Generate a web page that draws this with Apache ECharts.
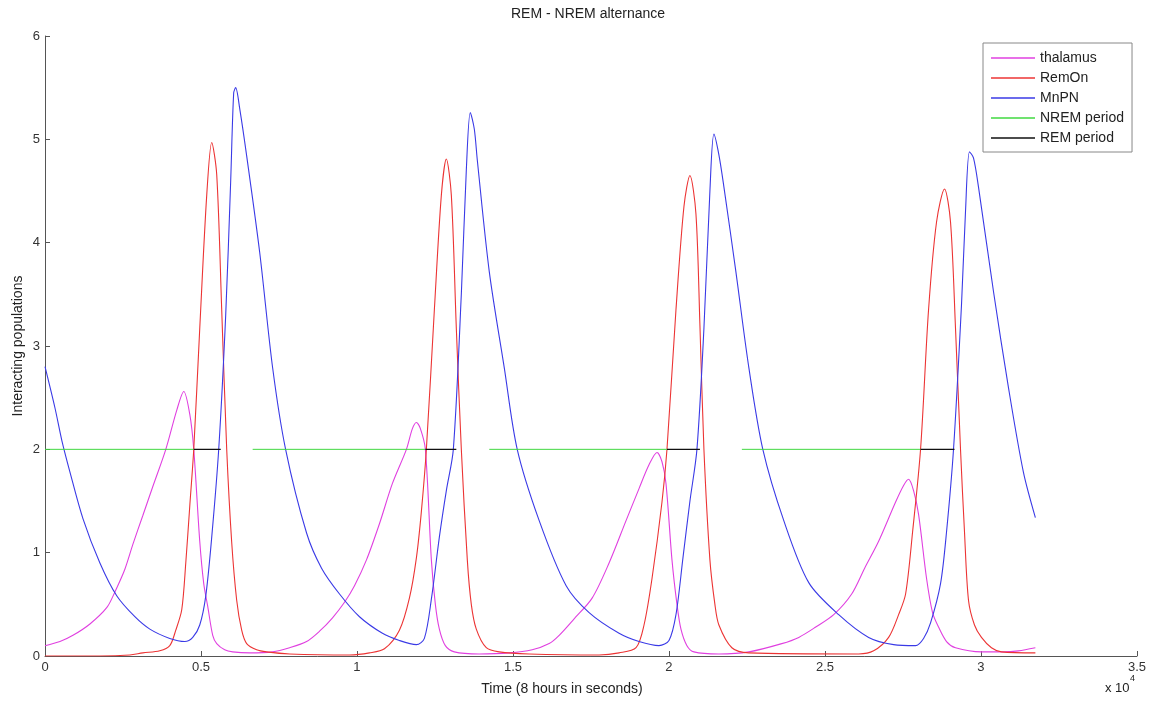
<!DOCTYPE html>
<html>
<head>
<meta charset="utf-8">
<title>REM - NREM alternance</title>
<script src="https://cdn.jsdelivr.net/npm/echarts@6/dist/echarts.min.js"></script>
<style>
  html, body { margin: 0; padding: 0; background: #fff; }
  #chart { width: 1149px; height: 702px; }
</style>
</head>
<body>
<div id="chart"></div>
<script>
// time in seconds
const thalamusT = [0, 480, 896, 1440, 1984, 2240, 2560, 2816, 3136, 3456, 3872, 4224, 4448, 4640, 4768, 4960, 5088, 5216, 5376, 5504, 5760, 6016, 6560, 7296, 7840, 8384, 8800, 9216, 9600, 9920, 10304, 10720, 11136, 11584, 11776, 11904, 12032, 12192, 12384, 12512, 12640, 12832, 13120, 13920, 14880, 15616, 16160, 16480, 16960, 17536, 18080, 18624, 19040, 19360, 19616, 19776, 19904, 20096, 20256, 20384, 20576, 20800, 21600, 22560, 23616, 24160, 24704, 25280, 25856, 26272, 26720, 27264, 27520, 27680, 27840, 28000, 28256, 28448, 28640, 28896, 29184, 30016, 30720, 31200, 31744];
const thalamusV = [0.10, 0.14, 0.20, 0.31, 0.47, 0.62, 0.84, 1.08, 1.36, 1.64, 2.0, 2.38, 2.56, 2.34, 2.0, 1.11, 0.70, 0.48, 0.20, 0.12, 0.06, 0.04, 0.03, 0.04, 0.08, 0.14, 0.24, 0.37, 0.52, 0.68, 0.93, 1.28, 1.67, 2.0, 2.2, 2.26, 2.2, 2.0, 0.93, 0.50, 0.26, 0.10, 0.04, 0.02, 0.03, 0.06, 0.12, 0.20, 0.36, 0.56, 0.90, 1.31, 1.62, 1.85, 1.97, 1.88, 1.67, 0.93, 0.50, 0.26, 0.10, 0.04, 0.02, 0.04, 0.12, 0.18, 0.28, 0.40, 0.60, 0.85, 1.11, 1.49, 1.65, 1.71, 1.6, 1.37, 0.75, 0.42, 0.28, 0.14, 0.08, 0.04, 0.04, 0.05, 0.08];

const remOnT = [0, 1760, 2720, 3136, 3680, 4000, 4192, 4384, 4512, 4640, 4768, 4960, 5184, 5344, 5504, 5664, 5824, 5984, 6144, 6304, 6464, 6784, 7104, 7840, 9760, 10400, 10880, 11360, 11680, 11904, 12064, 12224, 12480, 12704, 12864, 13024, 13184, 13344, 13536, 13664, 13824, 14144, 14560, 15520, 17760, 18400, 18944, 19200, 19456, 19776, 19936, 20224, 20480, 20672, 20864, 20992, 21120, 21312, 21472, 21600, 22016, 22560, 26080, 26560, 27040, 27360, 27584, 27808, 28064, 28320, 28576, 28832, 29024, 29184, 29344, 29472, 29600, 29792, 30016, 30336, 30656, 31744];
const remOnV = [0.0, 0.0, 0.01, 0.03, 0.05, 0.10, 0.25, 0.45, 0.90, 1.45, 2.0, 3.17, 4.46, 4.97, 4.66, 3.35, 2.0, 1.1, 0.54, 0.25, 0.12, 0.06, 0.04, 0.02, 0.01, 0.03, 0.07, 0.25, 0.56, 0.95, 1.4, 2.0, 3.35, 4.46, 4.81, 4.46, 3.17, 2.0, 0.93, 0.50, 0.26, 0.08, 0.04, 0.02, 0.01, 0.03, 0.08, 0.30, 0.75, 1.49, 2.0, 3.35, 4.35, 4.65, 4.28, 3.2, 2.0, 0.93, 0.50, 0.30, 0.08, 0.03, 0.02, 0.05, 0.18, 0.40, 0.60, 1.2, 2.0, 3.35, 4.2, 4.52, 4.2, 3.17, 2.0, 1.2, 0.54, 0.30, 0.18, 0.08, 0.04, 0.03];

const mnpnT = [0, 320, 544, 800, 1216, 1760, 2304, 2880, 3360, 4000, 4480, 4736, 4960, 5152, 5344, 5568, 5792, 5952, 6048, 6112, 6240, 6464, 6880, 7296, 7712, 8384, 8864, 9440, 10080, 10816, 11360, 11904, 12160, 12384, 12640, 12864, 13088, 13344, 13504, 13632, 13760, 13856, 14240, 14720, 15136, 15840, 16704, 17440, 18400, 19040, 19680, 20000, 20224, 20448, 20672, 20896, 21120, 21312, 21440, 21600, 21760, 22144, 22560, 23008, 23680, 24480, 25440, 26400, 27200, 27904, 28160, 28384, 28704, 28896, 29120, 29376, 29504, 29632, 29760, 29920, 30400, 30880, 31360, 31744];
const mnpnV = [2.80, 2.40, 2.08, 1.78, 1.33, 0.90, 0.58, 0.38, 0.26, 0.17, 0.14, 0.18, 0.30, 0.58, 1.15, 2.0, 3.3, 4.6, 5.45, 5.5, 5.3, 4.84, 3.91, 2.79, 2.0, 1.19, 0.85, 0.60, 0.38, 0.22, 0.15, 0.11, 0.17, 0.55, 1.15, 1.6, 2.0, 3.5, 4.7, 5.26, 5.1, 4.8, 3.72, 2.79, 2.0, 1.31, 0.68, 0.42, 0.22, 0.14, 0.10, 0.15, 0.40, 0.95, 1.5, 2.0, 3.17, 4.5, 5.05, 4.85, 4.54, 3.72, 2.79, 2.0, 1.31, 0.71, 0.40, 0.18, 0.11, 0.10, 0.17, 0.32, 0.70, 1.2, 2.0, 3.4, 4.3, 4.88, 4.82, 4.54, 3.53, 2.6, 1.78, 1.34];

// start / end of each period (both drawn at level 2)
const nremStart = [0, 6656, 14240, 22336];
const nremEnd = [4768, 12192, 19936, 28064];
const remStart = [4768, 12192, 19936, 28064];
const remEnd = [5632, 13184, 20992, 29152];
const periodLevel = 2;

const xTicks = [0, 5000, 10000, 15000, 20000, 25000, 30000, 35000];

const FONT = '"Liberation Sans", Arial, sans-serif';

function pairs(ts, vs) {
  return ts.map((t, i) => [t, vs[i]]);
}

function segments(starts, ends, level) {
  let out = [];
  for (let i = 0; i < starts.length; i++) {
    out.push([starts[i], level]);
    out.push([ends[i], level]);
    out.push([ends[i], '-']);
  }
  return out;
}

let chart = echarts.init(document.getElementById('chart'), null, { renderer: 'canvas' });

let curve = (name, color, ts, vs) => ({
  name: name,
  type: 'line',
  data: pairs(ts, vs),
  symbol: 'none',
  smooth: 0.3,
  lineStyle: { color: color, width: 1.1 },
  itemStyle: { color: color },
  emphasis: { disabled: true }
});

let option = {
  animation: false,
  backgroundColor: '#fff',
  grid: { left: 45, right: 11, top: 36, bottom: 46, containLabel: false },
  xAxis: {
    type: 'value',
    min: xTicks[0],
    max: xTicks[xTicks.length - 1],
    interval: 5000,
    axisLine: { lineStyle: { color: '#555', width: 1 } },
    axisTick: { inside: true, length: 5, lineStyle: { color: '#555' } },
    axisLabel: {
      formatter: v => String(v / 10000),
      fontSize: 13, color: '#333', fontFamily: FONT, margin: 5
    },
    splitLine: { show: false }
  },
  yAxis: {
    type: 'value',
    min: 0, max: 6, interval: 1,
    axisLine: { show: true, lineStyle: { color: '#555', width: 1 } },
    axisTick: { show: true, inside: true, length: 5, lineStyle: { color: '#555' } },
    axisLabel: { fontSize: 13, color: '#333', fontFamily: FONT, margin: 5 },
    splitLine: { show: false }
  },
  legend: {
    orient: 'vertical',
    left: 983, top: 43,
    padding: [8, 8, 7, 8],
    itemGap: 6,
    itemWidth: 44,
    itemHeight: 1.5,
    icon: 'rect',
    borderColor: '#888',
    borderWidth: 1,
    backgroundColor: '#fff',
    textStyle: { fontSize: 14, lineHeight: 14, color: '#222', fontFamily: FONT },
    data: ['thalamus', 'RemOn', 'MnPN', 'NREM period', 'REM period']
  },
  graphic: [
    { type: 'text', x: 588, y: 14,
      style: { text: 'REM - NREM alternance', align: 'center', verticalAlign: 'middle', fontSize: 14, fontFamily: FONT, fill: '#222' } },
    { type: 'text', x: 562, y: 689,
      style: { text: 'Time (8 hours in seconds)', align: 'center', verticalAlign: 'middle', fontSize: 14, fontFamily: FONT, fill: '#222' } },
    { type: 'text', x: 18, y: 346, rotation: Math.PI / 2,
      style: { text: 'Interacting populations', align: 'center', verticalAlign: 'middle', fontSize: 14, fontFamily: FONT, fill: '#222' } },
    { type: 'text', x: 1105, y: 688,
      style: { text: 'x 10', align: 'left', verticalAlign: 'middle', fontSize: 13, fontFamily: FONT, fill: '#222' } },
    { type: 'text', x: 1130, y: 679,
      style: { text: '4', align: 'left', verticalAlign: 'middle', fontSize: 9, fontFamily: FONT, fill: '#222' } }
  ],
  series: [
    curve('thalamus', '#e040e0', thalamusT, thalamusV),
    curve('RemOn', '#ec3434', remOnT, remOnV),
    curve('MnPN', '#3a3ae6', mnpnT, mnpnV),
    {
      name: 'NREM period', type: 'line', symbol: 'none', connectNulls: false,
      data: segments(nremStart, nremEnd, periodLevel),
      lineStyle: { color: '#40d840', width: 1 }, itemStyle: { color: '#40d840' },
      emphasis: { disabled: true }
    },
    {
      name: 'REM period', type: 'line', symbol: 'none', connectNulls: false,
      data: segments(remStart, remEnd, periodLevel),
      lineStyle: { color: '#111', width: 1.2 }, itemStyle: { color: '#111' },
      emphasis: { disabled: true }
    }
  ]
};

chart.setOption(option);
</script>
</body>
</html>
